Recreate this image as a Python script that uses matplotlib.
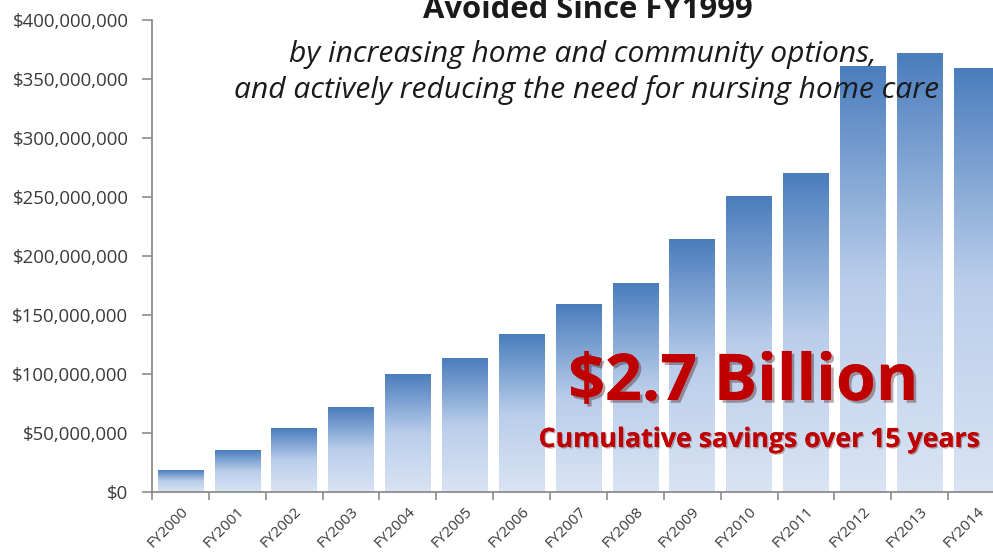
import numpy as np
import matplotlib.pyplot as plt
from matplotlib.colors import LinearSegmentedColormap
import matplotlib.patheffects as pe
from matplotlib.ticker import FuncFormatter

plt.rcParams['font.family'] = ['Open Sans', 'DejaVu Sans']

# cost avoided per fiscal year (dollars)
years = ["FY2000", "FY2001", "FY2002", "FY2003", "FY2004", "FY2005", "FY2006",
         "FY2007", "FY2008", "FY2009", "FY2010", "FY2011", "FY2012", "FY2013", "FY2014"]
savings_m = [17.8, 35.3, 53.7, 71.2, 99.5, 113.3, 133.4, 159.0, 176.3, 213.9,
             250.8, 270.3, 360.8, 372.0, 359.0]
savings = [v * 1e6 for v in savings_m]

W, H = 993, 556
fig = plt.figure(figsize=(W / 100, H / 100), dpi=100)
ax = fig.add_axes([152 / W, 1 - 491.7 / H, (1005 - 152) / W, (491.7 - 19.7) / H])

grad = LinearSegmentedColormap.from_list("g", ["#d9e4f4", "#b9cdea", "#4a7dbd"])
col = np.linspace(0, 1, 256).reshape(-1, 1)
w = 0.8
for i, v in enumerate(savings):
    ax.imshow(col, cmap=grad, origin="lower", aspect="auto",
              extent=[i - w / 2, i + w / 2, 0, v], zorder=2, interpolation="bilinear")

ax.set_xlim(-0.5, len(years) - 0.5)
ax.set_ylim(0, 400e6)

gray = "#8c8c8c"
for s in ["top", "right"]:
    ax.spines[s].set_visible(False)
for s in ["left", "bottom"]:
    ax.spines[s].set_color(gray)
    ax.spines[s].set_linewidth(1.3)

ax.set_yticks(np.arange(0, 400e6 + 1, 50e6))
ax.yaxis.set_major_formatter(FuncFormatter(lambda v, p: "${:,.0f}".format(v)))
ax.tick_params(axis="y", colors=gray, length=7, width=1.2, pad=10, labelsize=13.4,
               labelcolor="#3a3a3a")

ax.set_xticks(np.arange(-0.5, len(years), 1))
ax.set_xticklabels([])
ax.tick_params(axis="x", which="major", colors=gray, length=6, width=1.2)
ax.set_xticks(np.arange(len(years)), minor=True)
ax.set_xticklabels(years, minor=True, rotation=45, ha="right", va="top",
                   rotation_mode="anchor", fontsize=11, color="#3a3a3a")
ax.tick_params(axis="x", which="minor", length=0, pad=9)


def put(x, y, s, width, **kw):
    # place text by centre/baseline in pixels, then scale font to the wanted width
    t = fig.text(x / W, 1 - y / H, s, ha="center", va="baseline", **kw)
    r = fig.canvas.get_renderer()
    bw = t.get_window_extent(r).width
    t.set_fontsize(t.get_fontsize() * width / bw)
    return t


put(588, 18, "Avoided Since FY1999", 330, fontsize=17, fontweight="bold", color="#1a1a1a")
put(583, 62, "by increasing home and community options,", 587,
    fontsize=17, style="italic", color="#1a1a1a")
put(587, 98, "and actively reducing the need for nursing home care", 706,
    fontsize=17, style="italic", color="#1a1a1a")

put(743, 400, "$2.7 Billion", 350, fontsize=40, fontweight="bold", color="#c00000",
    path_effects=[pe.withSimplePatchShadow(offset=(2, -2), alpha=0.35), pe.Normal()])
put(759, 447, "Cumulative savings over 15 years", 442, fontsize=17, fontweight="bold",
    color="#c00000",
    path_effects=[pe.withSimplePatchShadow(offset=(1, -1), alpha=0.3), pe.Normal()])

fig.savefig("out.png", dpi=100)
